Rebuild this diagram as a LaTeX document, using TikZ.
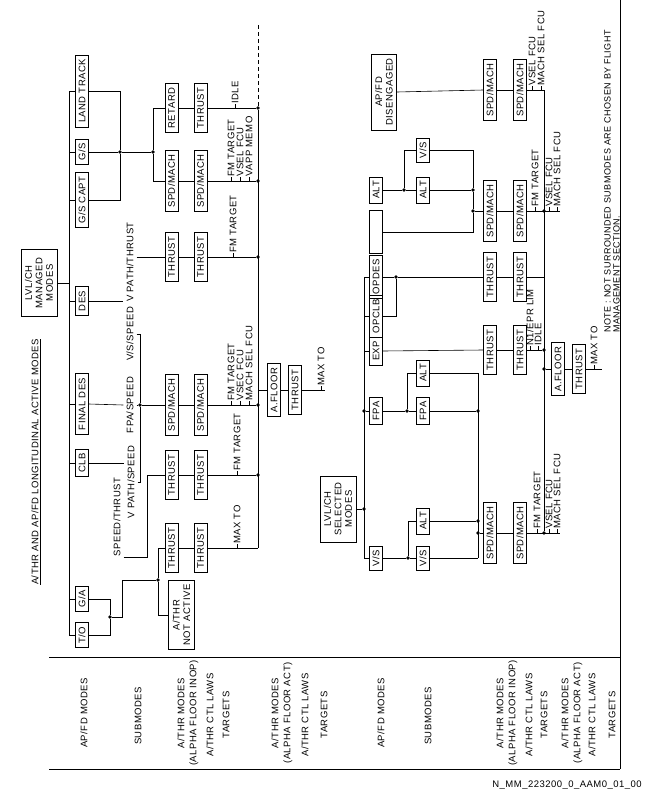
\documentclass[tikz,border=0pt]{standalone}
\usepackage{fontspec}
\setmainfont{Liberation Sans}[LetterSpace=5]
\usetikzlibrary{positioning}

\tikzset{
  box/.style={draw, rotate=90, inner xsep=4pt, inner ysep=3pt, text height=6.8pt, text depth=0pt, font=\fontsize{9.5}{10}\selectfont},
  bigbox/.style={draw, rotate=90, align=center, inner xsep=4pt, inner ysep=4pt, font=\fontsize{9.5}{10.5}\selectfont},
  lbl/.style={rotate=90, inner xsep=1pt, inner ysep=3pt, text height=6.8pt, text depth=0pt, font=\fontsize{9.5}{10}\selectfont},
  tgt/.style={rotate=90, anchor=west, inner sep=0pt, text height=6.8pt, text depth=0pt, font=\fontsize{9.5}{10}\selectfont},
  rowlbl/.style={rotate=90, align=center, inner sep=1pt, font=\fontsize{9.5}{12}\selectfont},
  dot/.style={circle, fill, inner sep=0pt, minimum size=3.6pt},
}

\begin{document}
\begin{tikzpicture}[x=1pt, y=-1pt, line width=0.6pt]
\useasboundingbox (0,0) rectangle (648,792);

% title and table
\node[rowlbl] (title) at (36,462) {\underline{A/THR AND AP/FD LONGITUDINAL ACTIVE MODES}};
\draw (49,657) -- (620,657);
\draw (49,769) -- (620,769);
\draw (620,0) -- (620,769);

\node[rowlbl] (r1) at (84,713) {AP/FD MODES};
\node[rowlbl] (r2) at (138,716) {SUBMODES};
\node[rowlbl] (r3) at (188,713) {A/THR MODES\\(ALPHA FLOOR INOP)};
\node[rowlbl] (r4) at (210,715) {A/THR CTL LAWS};
\node[rowlbl] (r5) at (226,715) {TARGETS};
\node[rowlbl] (r6) at (282,713) {A/THR MODES\\(ALPHA FLOOR ACT)};
\node[rowlbl] (r7) at (305,715) {A/THR CTL LAWS};
\node[rowlbl] (r8) at (324,715) {TARGETS};
\node[rowlbl] (r9) at (381,713) {AP/FD MODES};
\node[rowlbl] (r10) at (428,716) {SUBMODES};
\node[rowlbl] (r11) at (507,713) {A/THR MODES\\(ALPHA FLOOR INOP)};
\node[rowlbl] (r12) at (529,715) {A/THR CTL LAWS};
\node[rowlbl] (r13) at (544,715) {TARGETS};
\node[rowlbl] (r14) at (572,713) {A/THR MODES\\(ALPHA FLOOR ACT)};
\node[rowlbl] (r15) at (592,715) {A/THR CTL LAWS};
\node[rowlbl] (r16) at (612,715) {TARGETS};

% managed modes
\node[bigbox, minimum width=67pt] (managed) at (39,283) {LVL/CH\\MANAGED\\MODES};
\node[box] (landtrack) at (82,91) {LAND TRACK};
\node[box] (gs) at (82,152) {G/S};
\node[box] (gscapt) at (82,200) {G/S CAPT};
\node[box] (des) at (82,301) {DES};
\node[box] (finaldes) at (82,404) {FINAL DES};
\node[box] (clb) at (82,463) {CLB};
\node[box] (ga) at (82,599) {G/A};
\node[box] (toff) at (82,635) {T/O};

\coordinate (mt) at (69,91);
\coordinate (mb) at (69,635);
\draw (mt) -- (mb);
\foreach \n in {landtrack,gs,gscapt,des,finaldes,clb,ga,toff}
  \draw (\n.north) -- (\n.north -| mt);
\draw (managed.south) -- (managed.south -| mt);

\node[dot] (dgs) at (120,152) {};
\node[dot] (dgs2) at (153,152) {};
\draw (landtrack.south) -| (dgs);
\draw (gscapt.south) -| (dgs);
\draw (gs.south) -- (dgs) -- (dgs2);

% submodes
\node[lbl] (vpthr) at (130,262) {V PATH/THRUST};
\node[lbl] (vsspd) at (130,334) {V/S/SPEED};
\node[lbl] (fpaspd) at (130,405) {FPA/SPEED};
\node[lbl] (vpspd) at (131,482) {V PATH/SPEED};
\node[lbl] (spdthr) at (117,517) {SPEED/THRUST};

% a/thr modes and ctl laws
\node[box] (retard) at (171.5,108) {RETARD};
\node[box] (thr1) at (200.5,108) {THRUST};
\node[box] (spd1) at (171.5,181) {SPD/MACH};
\node[box] (spd2) at (200.5,181) {SPD/MACH};
\node[box] (thr3) at (171.5,257) {THRUST};
\node[box] (thr4) at (200.5,257) {THRUST};
\node[box] (spd3) at (171.5,405) {SPD/MACH};
\node[box] (spd4) at (200.5,405) {SPD/MACH};
\node[box] (thr5) at (171.5,475) {THRUST};
\node[box] (thr6) at (200.5,475) {THRUST};
\node[box] (thr7) at (171.5,548) {THRUST};
\node[box] (thr8) at (200.5,548) {THRUST};
\node[bigbox, minimum width=67pt] (athrna) at (181.5,615) {A/THR\\NOT ACTIVE};

\foreach \a/\b in {retard/thr1,spd1/spd2,thr3/thr4,spd3/spd4,thr5/thr6,thr7/thr8}
  \draw (\a.south) -- (\b.north);

\draw (dgs2) |- (retard.north);
\draw (dgs2) |- (spd1.north);
\draw (des.south) -- (des.south -| vpthr.north);
\draw (vpthr.south |- thr3) -- (thr3.north);
\node[dot] (dfpa) at (140,405) {};
\draw (finaldes.south) -- (fpaspd.north);
\draw (fpaspd.south) -- (dfpa) -- (spd3.north);
\draw (vsspd.south) -| (dfpa);
\draw (vpspd.south) -| (dfpa);
\draw (clb.south) -- (clb.south -| vpspd.north);
\coordinate (jst) at (147,475);
\draw (spdthr.south west) -| (jst) -- (thr5.north);

\node[dot] (dgo) at (110,617) {};
\node[dot] (dna) at (158,580) {};
\draw (ga.south) -| (dgo);
\draw (toff.south) -| (dgo);
\draw (dgo) -- ++(12.5,0) |- (dna);
\draw (dna) |- (thr7.north);
\draw (dna) |- (athrna.north);

% targets
\node[dot] (k1) at (258,108) {};
\node[dot] (k2) at (258,181) {};
\node[dot] (k3) at (258,257) {};
\node[dot] (k4) at (258,405) {};
\node[dot] (k5) at (258,475) {};
\coordinate (k6) at (258,548);
\coordinate (k7) at (258,390);
\draw (thr1.south) -- (k1);
\draw (spd2.south) -- (k2);
\draw (thr4.south) -- (k3);
\draw (spd4.south) -- (k4);
\draw (thr6.south) -- (k5);
\draw (thr8.south) -- (k6);
\draw (k1) -- (k6);
\draw[dashed, dash pattern=on 4pt off 3pt] (k1) -- (258,22);

\node[tgt] (t1) at (235,104) {IDLE};
\node[tgt] (t2) at (231,177) {FM TARGET};
\node[tgt] (t3) at (240,177) {VSEL FCU};
\node[tgt] (t4) at (249,177) {VAPP MEMO};
\node[tgt] (t5) at (233,253) {FM TARGET};
\node[tgt] (t6) at (231,401) {FM TARGET};
\node[tgt] (t7) at (240,401) {VSEC FCU};
\node[tgt] (t8) at (249,401) {MACH SEL FCU};
\node[tgt] (t9) at (237,471) {FM TARGET};
\node[tgt] (t10) at (237,544) {MAX TO};
\foreach \t/\r in {t1/thr1,t2/spd2,t3/spd2,t4/spd2,t5/thr4,t6/spd4,t7/spd4,t8/spd4,t9/thr6,t10/thr8}
  \draw (\t.west) -- (\t.west |- \r);

% alpha floor (managed)
\node[box] (afl1) at (274,390) {A.FLOOR};
\node[box] (thr9) at (295,390) {THRUST};
\draw (k7) -- (afl1.north);
\draw (afl1.south) -- (thr9.north);
\draw (thr9.south) -- (325,390);
\node[tgt] (t11) at (321,386) {MAX TO};
\draw (t11.west) -- (t11.west |- thr9);

% selected modes
\node[bigbox, minimum width=66pt] (selected) at (338,509) {LVL/CH\\SELECTED\\MODES};
\node[bigbox, minimum width=73pt] (apfddis) at (384,92) {AP/FD\\DISENGAGED};
\node[box] (alt1) at (376,190) {ALT};
\node[box, minimum width=43pt] (blank) at (376,232) {};
\node[box] (opdes) at (376,277) {OPDES};
\node[box] (opclb) at (376,316) {OPCLB};
\node[box] (exp) at (376,351) {EXP};
\node[box] (fpa) at (376,411) {FPA};
\node[box] (vs) at (376,558) {V/S};

\coordinate (st) at (364,277);
\coordinate (sb) at (364,558);
\node[dot] (dfp) at (364,411) {};
\node[dot] (dsel) at (364,509) {};
\draw (opdes.north) -- (st) -- (sb) -- (vs.north);
\draw (opclb.north) -- (opclb.north -| st);
\draw (exp.north) -- (exp.north -| st);
\draw (fpa.north) -- (dfp);
\draw (selected.south) -- (dsel);

% submodes (selected)
\node[box] (vs2) at (423,150) {V/S};
\node[box] (alt2) at (423,190) {ALT};
\node[box] (alt3) at (423,373) {ALT};
\node[box] (fpa2) at (423,411) {FPA};
\node[box] (alt4) at (423,521) {ALT};
\node[box] (vs3) at (423,558) {V/S};

\node[dot] (da1) at (404,190) {};
\node[dot] (da2) at (473,190) {};
\node[dot] (da3) at (473,211) {};
\coordinate (da4) at (473,232);
\draw (alt1.south) -- (da1) -- (alt2.north);
\draw (da1) |- (vs2.north);
\draw (vs2.south) -| (da2);
\draw (alt2.south) -- (da2) -- (da3) -- (da4) -- (blank.south);

\node[dot] (dop) at (396,277) {};
\draw (opdes.south) -- (dop);
\draw (opclb.south) -| (dop);

\node[dot] (df1) at (407,411) {};
\node[dot] (df3) at (478,411) {};
\coordinate (df2) at (478,373);
\draw (fpa.south) -- (df1) -- (fpa2.north);
\draw (df1) |- (alt3.north);
\draw (alt3.south) -- (df2);
\draw (fpa2.south) -- (df3);

\node[dot] (dv1) at (408,558) {};
\node[dot] (dv2) at (478,521) {};
\node[dot] (dv3) at (478,533) {};
\coordinate (dv4) at (478,558);
\draw (vs.south) -- (dv1) -- (vs3.north);
\draw (dv1) |- (alt4.north);
\draw (alt4.south) -- (dv2);
\draw (vs3.south) -- (dv4);
\draw (df2) -- (dv4);

% a/thr (selected)
\node[box] (spd7) at (490,90) {SPD/MACH};
\node[box] (spd8) at (520,90) {SPD/MACH};
\node[box] (spd5) at (490,211) {SPD/MACH};
\node[box] (spd6) at (520,211) {SPD/MACH};
\node[box] (thr10) at (490,277) {THRUST};
\node[box] (thr11) at (520,277) {THRUST};
\node[box] (thr12) at (490,350) {THRUST};
\node[box] (thr13) at (520,350) {THRUST};
\node[box] (spd9) at (490,533) {SPD/MACH};
\node[box] (spd10) at (520,533) {SPD/MACH};
\foreach \a/\b in {spd7/spd8,spd5/spd6,thr10/thr11,thr12/thr13,spd9/spd10}
  \draw (\a.south) -- (\b.north);

\draw (apfddis.south) -- (spd7.north);
\draw (da3) -- (spd5.north);
\draw (dop) -- (thr10.north);
\draw (exp.south) -- (thr12.north);
\draw (dv3) -- (spd9.north);

\coordinate (n0) at (544,90);
\node[dot] (n1) at (544,211) {};
\coordinate (n2) at (544,277);
\node[dot] (n3) at (544,350) {};
\node[dot] (n4) at (544,369) {};
\node[dot] (n5) at (544,533) {};
\draw (spd8.south) -- (n0) -- (n5);
\draw (spd6.south) -- (560,211);
\draw (thr11.south) -- (n2);
\draw (thr13.south) -- (n3);
\draw (spd10.south) -- (560,533);

\node[tgt] (t17) at (532,86) {VSEL FCU};
\node[tgt] (t18) at (541,86) {MACH SEL FCU};
\node[tgt] (t14) at (535,207) {FM TARGET};
\node[tgt] (t15) at (549,207) {VSEL FCU};
\node[tgt] (t16) at (557,207) {MACH SEL FCU};
\node[tgt] (t12) at (530,346) {N1/EPR LIM};
\node[tgt] (t13) at (538,346) {IDLE};
\node[tgt] (t19) at (537,529) {FM TARGET};
\node[tgt] (t20) at (549,529) {VSEL FCU};
\node[tgt] (t21) at (557,529) {MACH SEL FCU};
\foreach \t/\r in {t17/spd8,t18/spd8,t14/spd6,t15/spd6,t16/spd6,t12/thr13,t13/thr13,t19/spd10,t20/spd10,t21/spd10}
  \draw (\t.west) -- (\t.west |- \r);

% alpha floor (selected)
\node[box] (afl2) at (558,369) {A.FLOOR};
\node[box] (thr14) at (579,369) {THRUST};
\draw (n4) -- (afl2.north);
\draw (afl2.south) -- (thr14.north);
\draw (thr14.south) -- (602,369);
\node[tgt] (t22) at (594,365) {MAX TO};
\draw (t22.west) -- (t22.west |- thr14);

% note and reference
\node[rotate=90, anchor=north west, align=left, inner sep=0pt, font=\fontsize{9}{9}\selectfont] (note) at (604,333)
  {NOTE : NOT SURROUNDED SUBMODES ARE CHOSEN BY FLIGHT\\MANAGEMENT SECTION.};
\node[anchor=east, inner sep=0pt, font=\fontsize{9.5}{10}\selectfont] (fileid) at (642,785) {N\_MM\_223200\_0\_AAM0\_01\_00};
\end{tikzpicture}
\end{document}
